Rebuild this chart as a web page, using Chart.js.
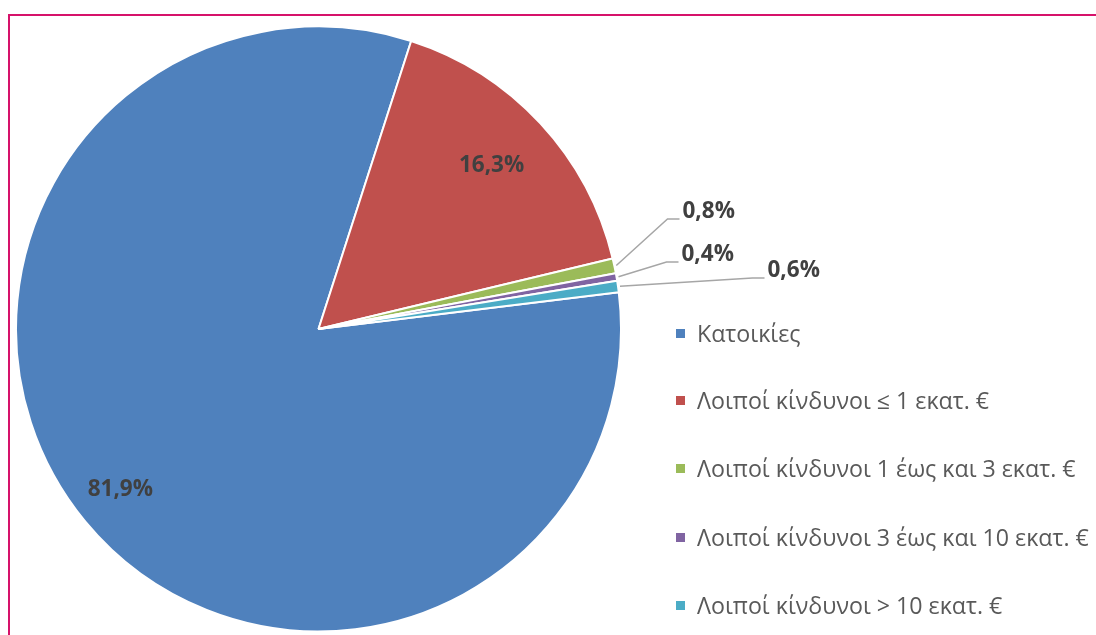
<!DOCTYPE html>
<html>
<head>
<meta charset="utf-8">
<script src="https://cdn.jsdelivr.net/npm/chart.js@4"></script>
<style>
  html, body { margin: 0; padding: 0; background: #fff; }
  #wrap { position: relative; width: 1096px; height: 635px; overflow: hidden; }
  #frame { position: absolute; left: 8px; top: 14px; width: 1100px; height: 640px;
    border-top: 2px solid #d6126a; border-left: 2px solid #d6126a; }
  #chart { position: absolute; left: 0; top: 0; }
  #legend { position: absolute; left: 676px; top: 0; font-family: "Open Sans", sans-serif;
    font-size: 23.2px; color: #595959; }
  .item { position: absolute; left: 0; white-space: nowrap; display: flex; align-items: center; }
  .box { width: 9px; height: 9px; margin-right: 12px; }
</style>
</head>
<body>
<div id="wrap">
  <div id="frame"></div>
  <canvas id="chart" width="1096" height="635"></canvas>
  <div id="legend"></div>
</div>
<script>
const categories = [
  "Κατοικίες",
  "Λοιποί κίνδυνοι ≤ 1 εκατ. €",
  "Λοιποί κίνδυνοι 1 έως και 3 εκατ. €",
  "Λοιποί κίνδυνοι 3 έως και 10 εκατ. €",
  "Λοιποί κίνδυνοι > 10 εκατ. €"
]
const shares = [81.9, 16.3, 0.8, 0.4, 0.6]
const colors = ["#4f81bd", "#c0504d", "#9bbb59", "#8064a2", "#4bacc6"]

// label placement: inside labels use a radial factor, outside ones an elbow offset from centre
const inside = { 0: 0.85, 1: 0.78 }
const elbows = { 2: [349, -110], 3: [348, -67], 4: [434, -51] }

const fmt = (v) => v.toFixed(1).replace(".", ",") + "%"

const labelPlugin = {
  id: "pieLabels",
  afterDatasetsDraw(chart) {
    const ctx = chart.ctx
    const meta = chart.getDatasetMeta(0)
    ctx.save()
    ctx.font = "bold 22.5px 'Open Sans', sans-serif"
    ctx.fillStyle = "#404040"
    ctx.textBaseline = "middle"
    meta.data.forEach((arc, i) => {
      const p = arc.getProps(["x", "y", "startAngle", "endAngle", "outerRadius"], true)
      const mid = (p.startAngle + p.endAngle) / 2
      const text = fmt(shares[i])
      if (inside[i] !== undefined) {
        const r = p.outerRadius * inside[i]
        ctx.textAlign = "center"
        ctx.fillText(text, p.x + Math.cos(mid) * r, p.y + Math.sin(mid) * r - 3)
      } else {
        const ax = p.x + Math.cos(mid) * (p.outerRadius + 2)
        const ay = p.y + Math.sin(mid) * (p.outerRadius + 2)
        const ex = p.x + elbows[i][0]
        const ey = p.y + elbows[i][1]
        ctx.strokeStyle = "#a6a6a6"
        ctx.lineWidth = 1.5
        ctx.beginPath()
        ctx.moveTo(ax, ay)
        ctx.lineTo(ex, ey)
        ctx.lineTo(ex + 12, ey)
        ctx.stroke()
        ctx.textAlign = "left"
        ctx.fillText(text, ex + 15, ey - 7)
      }
    })
    ctx.restore()
  }
}

new Chart(document.getElementById("chart"), {
  type: "pie",
  data: {
    labels: categories,
    datasets: [{
      data: shares,
      backgroundColor: colors,
      borderColor: "#ffffff",
      borderWidth: 2
    }]
  },
  options: {
    responsive: false,
    animation: false,
    rotation: 83,
    layout: { padding: { left: 15, top: 25, right: 474, bottom: 2 } },
    plugins: {
      legend: { display: false },
      tooltip: { enabled: false }
    }
  },
  plugins: [labelPlugin]
})

// legend
const legendEl = document.getElementById("legend")
const legendY = [333, 400, 468, 537, 605]
categories.forEach((name, i) => {
  const item = document.createElement("div")
  item.className = "item"
  item.style.top = (legendY[i] - 16) + "px"
  item.style.height = "32px"
  item.innerHTML = `<span class="box" style="background:${colors[i]}"></span><span>${name}</span>`
  legendEl.appendChild(item)
})
</script>
</body>
</html>
